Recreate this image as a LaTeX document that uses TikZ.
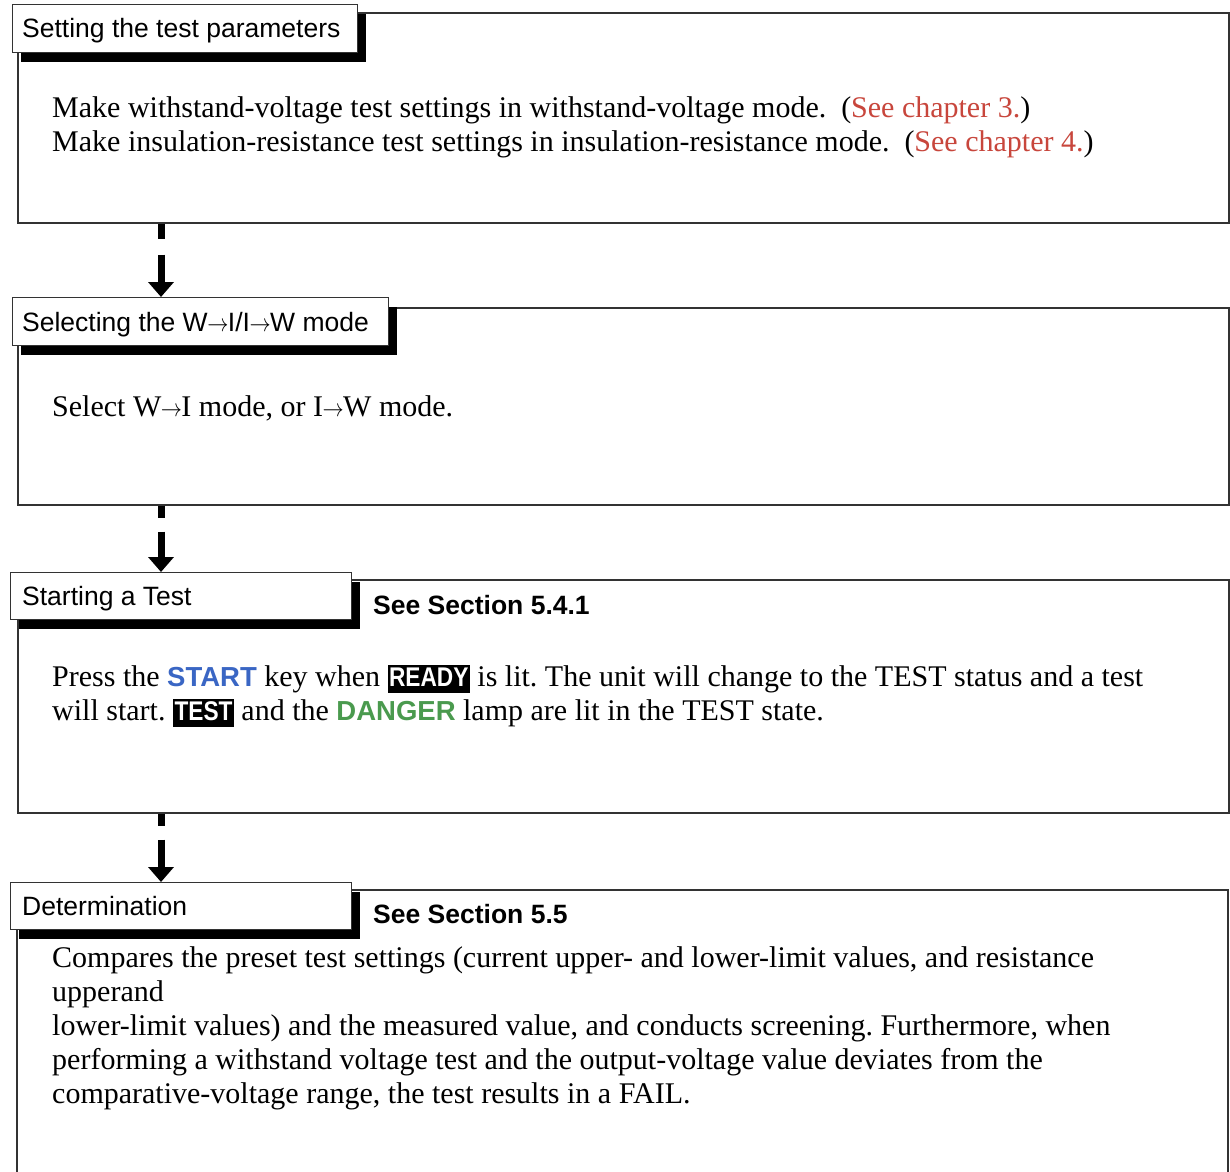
\documentclass[tikz,border=0pt]{standalone}
\usepackage{fontspec}
\usepackage{graphicx}
\setmainfont{Liberation Serif}
\setsansfont{Liberation Sans}
\usetikzlibrary{arrows.meta,shadows,calc}
\frenchspacing
\definecolor{refred}{HTML}{C8463C}
\definecolor{refblue}{HTML}{3A66C4}
\definecolor{refgreen}{HTML}{4A9A4E}
\definecolor{framecol}{HTML}{333333}
\newcommand{\bodylines}[1]{\begin{tabular}[t]{@{}l@{}}#1\end{tabular}}
\newcommand{\lampbox}[1]{{\setlength{\fboxsep}{1.5pt}\colorbox{black}{\rule[-5pt]{0pt}{25pt}\textcolor{white}{\sffamily\bfseries\fontsize{27}{27}\selectfont\scalebox{0.84}[1]{#1}}}}}
\newcommand{\keyname}[2]{\textcolor{#1}{\sffamily\bfseries\fontsize{27.5}{27.5}\selectfont #2}}
\newcommand{\rarr}{\hbox{\kern-0.5pt\scalebox{0.85}[1]{$\rightarrow$}\kern-0.5pt}}
\begin{document}
\begin{tikzpicture}[x=1pt,y=-1pt,
  frame/.style={draw=framecol, line width=1.6pt, rectangle, inner sep=0pt, anchor=north west},
  tab/.style={draw=framecol, line width=1.3pt, fill=white, rectangle, inner sep=0pt, anchor=north west,
    drop shadow={shadow xshift=8pt, shadow yshift=-9pt, opacity=1, fill=black}},
  tabtext/.style={anchor=base west, inner sep=0pt, font=\sffamily\fontsize{26.5}{30}\selectfont},
  reftext/.style={anchor=base west, inner sep=0pt, font=\sffamily\bfseries\fontsize{26.5}{30}\selectfont},
  bodytext/.style={anchor=base west, inner sep=0pt, font=\fontsize{30}{34}\selectfont},
  dashseg/.style={line width=7pt, line cap=butt, black},
  bigarrow/.style={line width=7pt, line cap=butt, black, -{Triangle[width=25pt,length=15pt]}}]
\useasboundingbox (0,0) rectangle (1230,1171);
\fill[white] (0,0) rectangle (1230,1171);
\coordinate (axis) at (161,0);

% frames
\node[frame, minimum width=1211pt, minimum height=210pt] (f1) at (17,12) {};
\node[frame, minimum width=1211pt, minimum height=197pt] (f2) at (17,307) {};
\node[frame, minimum width=1211pt, minimum height=233pt] (f3) at (17,579) {};
\draw[draw=framecol, line width=1.6pt] (17,1180) -- (17,890) -- (1228,890) -- (1228,1180);

% tabs
\node[tab, minimum width=345pt, minimum height=48pt] (t1) at (12,4) {};
\node[tab, minimum width=376pt, minimum height=48pt] (t2) at (12,297) {};
\node[tab, minimum width=341pt, minimum height=47pt] (t3) at (10,572) {};
\node[tab, minimum width=341pt, minimum height=47pt] (t4) at (10,882) {};

\node[tabtext] (l1) at (22,37) {Setting the test parameters};
\node[tabtext] (l2) at (22,331) {Selecting the W\rarr I/I\rarr W mode};
\node[tabtext] (l3) at (22,605) {Starting a Test};
\node[tabtext] (l4) at (22,915) {Determination};
\node[reftext] (r3) at (373,614) {See Section 5.4.1};
\node[reftext] (r4) at (373,923) {See Section 5.5};

% body texts
\node[bodytext] (b1) at (52,117) {\bodylines{Make withstand-voltage test settings in withstand-voltage mode.\ \ (\textcolor{refred}{See chapter 3.})\\
Make insulation-resistance test settings in insulation-resistance mode.\ \ (\textcolor{refred}{See chapter 4.})}};
\node[bodytext] (b2) at (52,416) {Select W\rarr I mode, or I\rarr W mode.};
\node[bodytext] (b3) at (52,686) {\bodylines{Press the \keyname{refblue}{START} key when \lampbox{READY} is lit. The unit will change to the TEST status and a test\\
will start. \lampbox{TEST} and the \keyname{refgreen}{DANGER} lamp are lit in the TEST state.}};
\node[bodytext] (b4) at (52,967) {\bodylines{Compares the preset test settings (current upper- and lower-limit values, and resistance\\
upperand\\
lower-limit values) and the measured value, and conducts screening. Furthermore, when\\
performing a withstand voltage test and the output-voltage value deviates from the\\
comparative-voltage range, the test results in a FAIL.}};

% connectors
\draw[dashseg] (f1.south -| axis) -- ++(0,15);
\draw[bigarrow] ($(f1.south -| axis)+(0,31)$) -- (t2.north -| axis);
\draw[dashseg] (f2.south -| axis) -- ++(0,12);
\draw[bigarrow] ($(f2.south -| axis)+(0,26)$) -- (t3.north -| axis);
\draw[dashseg] (f3.south -| axis) -- ++(0,12);
\draw[bigarrow] ($(f3.south -| axis)+(0,26)$) -- (t4.north -| axis);
\end{tikzpicture}
\end{document}
